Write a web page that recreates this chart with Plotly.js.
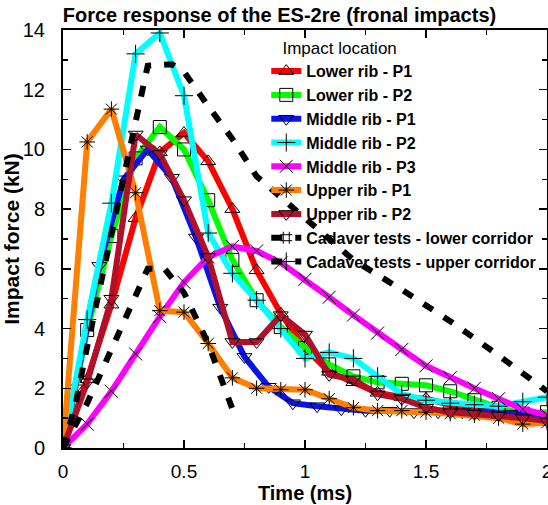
<!DOCTYPE html>
<html>
<head>
<meta charset="utf-8">
<script src="https://cdn.plot.ly/plotly-3.0.1.min.js"></script>
<style>
html,body{margin:0;padding:0;background:#fff;}
#chart{width:548px;height:505px;}
</style>
</head>
<body>
<div id="chart"></div>
<script>
// ---- data ----
var time = [0, 0.1, 0.2, 0.3, 0.4, 0.5, 0.6, 0.7, 0.8, 0.9, 1.0, 1.1, 1.2, 1.3, 1.4, 1.5, 1.6, 1.7, 1.8, 1.9, 2.0];
var timeMiddleP1 = [0, 0.05, 0.15, 0.25, 0.35, 0.45, 0.55, 0.65, 0.75, 0.85, 0.95, 1.05, 1.15, 1.25, 1.35, 1.45, 1.55, 1.65, 1.75, 1.85, 1.95, 2.0];

var lowerRibP1  = [0, 2.3, 4.8, 7.7, 9.9, 10.55, 9.6, 8.0, 5.95, 4.5, 3.35, 2.55, 2.2, 1.85, 1.7, 1.65, 1.45, 1.27, 1.2, 1.1, 1.0];
var lowerRibP2  = [0, 3.95, 7.1, 9.7, 10.75, 10.0, 8.3, 6.3, 4.95, 4.05, 3.35, 2.8, 2.4, 2.2, 2.15, 2.1, 1.9, 1.6, 1.35, 1.15, 1.2];
var middleRibP1 = [0, 2.0, 6.1, 9.0, 10.0, 9.05, 7.05, 4.7, 3.05, 2.05, 1.5, 1.4, 1.3, 1.25, 1.25, 1.2, 1.2, 1.2, 1.2, 1.15, 1.1, 1.05];
var middleRibP2 = [0, 4.3, 8.2, 13.2, 13.9, 11.8, 7.2, 5.85, 4.95, 4.0, 3.0, 3.2, 3.0, 2.4, 1.8, 1.6, 1.5, 1.45, 1.4, 1.55, 1.7];
var middleRibP3 = [0, 0.8, 1.9, 3.15, 4.4, 5.55, 6.4, 6.75, 6.6, 6.2, 5.65, 5.05, 4.45, 3.85, 3.3, 2.75, 2.35, 2.0, 1.65, 1.3, 1.1];
var upperRibP1  = [0, 10.25, 11.35, 8.55, 4.6, 4.55, 3.5, 2.35, 2.0, 1.95, 1.95, 1.65, 1.35, 1.25, 1.25, 1.2, 1.15, 1.1, 1.0, 0.8, 0.85];
var upperRibP2  = [0, 2.2, 5.0, 10.5, 9.85, 8.3, 6.4, 3.55, 3.55, 4.45, 3.8, 2.45, 2.3, 1.8, 1.65, 1.35, 1.2, 1.15, 1.1, 1.0, 0.9];

var lowerCorridorTime  = [0, 0.1, 0.2, 0.3, 0.35, 0.42, 0.5, 0.6, 0.7];
var lowerCorridorForce = [0, 1.5, 3.3, 5.1, 6.0, 6.0, 5.2, 3.5, 1.3];
var upperCorridorTime  = [0, 0.05, 0.1, 0.15, 0.2, 0.25, 0.3, 0.35, 0.45, 0.5, 0.6, 0.7, 0.8, 0.9, 1.0, 1.2, 1.4, 1.6, 1.8, 2.0];
var upperCorridorForce = [0, 1.4, 3.4, 5.3, 7.0, 9.0, 10.8, 12.8, 12.85, 12.6, 11.45, 10.35, 9.1, 8.4, 7.7, 6.3, 5.3, 4.25, 3.1, 1.9];

var seriesNames = ['Lower rib - P1', 'Lower rib - P2', 'Middle rib - P1', 'Middle rib - P2',
                   'Middle rib - P3', 'Upper rib - P1', 'Upper rib - P2',
                   'Cadaver tests - lower corridor', 'Cadaver tests - upper corridor'];
var xTickVals = [0, 0.5, 1, 1.5, 2];
var xTickText = ['0', '0.5', '1', '1.5', '2'];
var yTickVals = [0, 2, 4, 6, 8, 10, 12, 14];
var yTickText = ['0', '2', '4', '6', '8', '10', '12', '14'];

// ---- styles ----
function rib(name, x, y, color, symbol) {
  return {
    type: 'scatter', mode: 'lines+markers', name: name, x: x, y: y,
    line: {color: color, width: 6},
    marker: {symbol: symbol, size: 13, color: '#000', line: {color: '#000', width: 1}}
  };
}
var traces = [
  rib(seriesNames[0], time, lowerRibP1, '#ff0000', 'triangle-up-open'),
  rib(seriesNames[1], time, lowerRibP2, '#00ff00', 'square-open'),
  rib(seriesNames[2], timeMiddleP1, middleRibP1, '#0a14e6', 'triangle-down-open'),
  rib(seriesNames[3], time, middleRibP2, '#00ffff', 'cross-thin-open'),
  rib(seriesNames[4], time, middleRibP3, '#ff00ff', 'x-thin-open'),
  rib(seriesNames[5], time, upperRibP1, '#ff8000', 'asterisk-open'),
  rib(seriesNames[6], time, upperRibP2, '#b0102a', 'triangle-down-open')
];
var dashStyle = {color: '#000', width: 6, dash: '11px,13px'};
traces.push({type: 'scatter', mode: 'lines', name: seriesNames[7], x: lowerCorridorTime, y: lowerCorridorForce,
  line: dashStyle, showlegend: false});
traces.push({type: 'scatter', mode: 'lines', name: seriesNames[8], x: upperCorridorTime, y: upperCorridorForce,
  line: dashStyle, showlegend: false});
// legend entries for the corridors (line + marker as in the reference legend)
traces.push({type: 'scatter', mode: 'lines+markers', name: seriesNames[7], x: [null], y: [null],
  line: dashStyle, marker: {symbol: 'hash-open', size: 12, color: '#000', line: {color: '#000', width: 1}}});
traces.push({type: 'scatter', mode: 'lines+markers', name: seriesNames[8], x: [null], y: [null],
  line: dashStyle, marker: {symbol: 'cross-thin-open', size: 13, color: '#000', line: {color: '#000', width: 1}}});

var fam = 'Liberation Sans, Arial, sans-serif';
var axisFont = {family: fam, size: 19, color: '#000'};
var layout = {
  width: 548, height: 505,
  margin: {l: 63, r: 1, t: 30, b: 57},
  paper_bgcolor: '#fff', plot_bgcolor: '#fff',
  font: {family: fam, color: '#000'},
  title: {text: 'Force response of the ES-2re (fronal impacts)',
          font: {family: fam, size: 20, color: '#000', weight: 'bold'},
          x: 0.51, xref: 'container', xanchor: 'center', y: 0.97, yref: 'container', yanchor: 'middle'},
  xaxis: {
    range: [0, 2], tickvals: xTickVals, ticktext: xTickText,
    ticks: 'inside', ticklen: 8, tickwidth: 1.5, tickcolor: '#000',
    minor: {dtick: 0.25, ticks: 'inside', ticklen: 5, tickwidth: 1.5, tickcolor: '#000'},
    showline: true, linecolor: '#000', linewidth: 2, mirror: 'ticks',
    showgrid: false, zeroline: false, tickfont: axisFont, ticklabelstandoff: 5,
    ticklabeloverflow: 'allow',
    title: {text: 'Time (ms)', font: {family: fam, size: 20, color: '#000', weight: 'bold'}, standoff: 3}
  },
  yaxis: {
    range: [0, 14], tickvals: yTickVals, ticktext: yTickText,
    ticks: 'inside', ticklen: 8, tickwidth: 1.5, tickcolor: '#000',
    minor: {dtick: 1, ticks: 'inside', ticklen: 5, tickwidth: 1.5, tickcolor: '#000'},
    showline: true, linecolor: '#000', linewidth: 2, mirror: 'ticks',
    showgrid: false, zeroline: false, tickfont: {family: fam, size: 20, color: '#000'}, ticklabelstandoff: 12,
    ticklabeloverflow: 'allow',
    title: {text: 'Impact force (kN)', font: {family: fam, size: 21, color: '#000', weight: 'bold'}, standoff: 0}
  },
  showlegend: true,
  legend: {
    x: 0.42, xanchor: 'left', y: 0.995, yanchor: 'top',
    bgcolor: 'rgba(0,0,0,0)', borderwidth: 0,
    font: {family: fam, size: 16, color: '#000', weight: 'bold'},
    title: {text: '&nbsp;&nbsp;&nbsp;Impact location', font: {family: fam, size: 17, color: '#000', weight: 'normal'}},
    traceorder: 'normal'
  }
};
Plotly.newPlot('chart', traces, layout, {displayModeBar: false, staticPlot: true});
</script>
</body>
</html>
